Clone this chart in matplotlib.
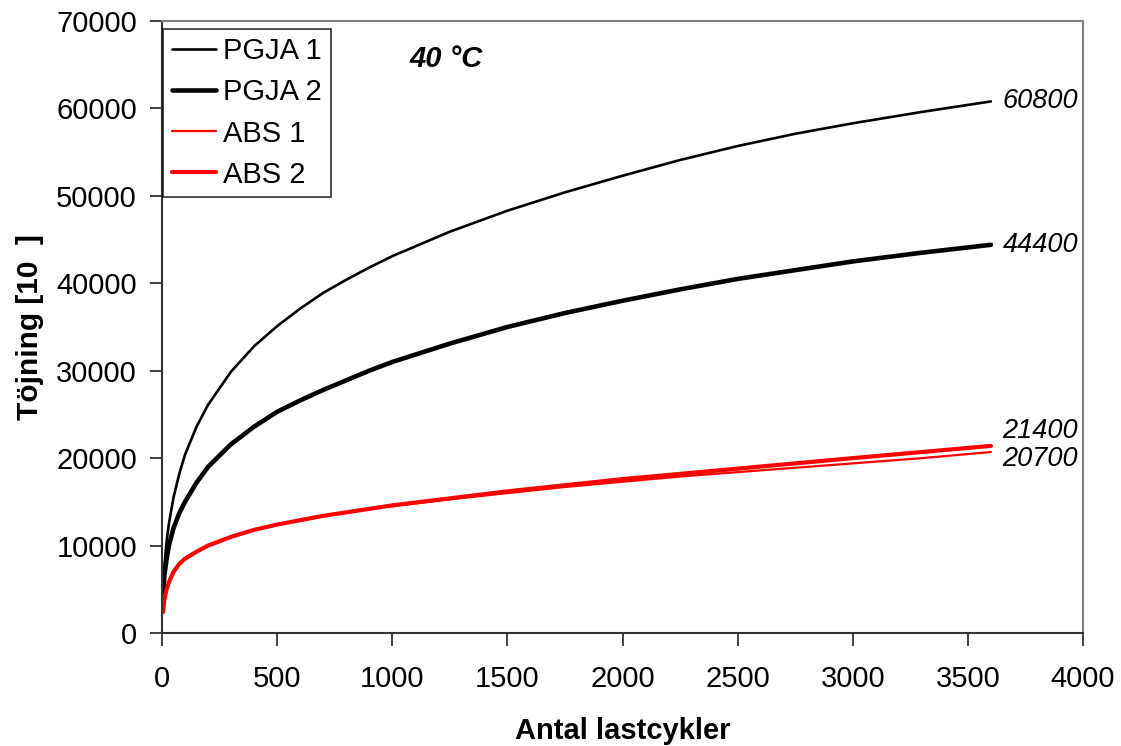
import matplotlib
matplotlib.use("Agg")
import matplotlib.pyplot as plt

plt.rcParams['font.family'] = ['Liberation Sans', 'DejaVu Sans']

x_vals = [5, 10, 20, 30, 50, 75, 100, 150, 200, 300, 400, 500, 600, 700, 800, 900,
          1000, 1250, 1500, 1750, 2000, 2250, 2500, 2750, 3000, 3300, 3600]
pgja1 = [5000, 7500, 10500, 12500, 15500, 18200, 20400, 23600, 26100, 29900, 32800, 35100,
         37100, 38900, 40400, 41800, 43100, 45900, 48300, 50400, 52300, 54100, 55700, 57100,
         58300, 59600, 60800]
pgja2 = [4500, 6500, 8500, 10000, 12000, 13700, 15000, 17200, 19000, 21600, 23600, 25300,
         26600, 27800, 28900, 30000, 31000, 33100, 35000, 36600, 38000, 39300, 40500, 41500,
         42500, 43500, 44400]
abs1 = [2400, 3800, 5000, 5800, 7000, 7900, 8500, 9300, 10000, 11000, 11800, 12400,
        12900, 13400, 13800, 14200, 14500, 15300, 16000, 16700, 17300, 17900, 18400, 18900,
        19400, 20000, 20700]
abs2 = [2400, 3800, 5000, 5800, 7000, 7900, 8500, 9300, 10000, 11000, 11800, 12400,
        12900, 13400, 13800, 14200, 14600, 15400, 16200, 16900, 17600, 18200, 18800, 19400,
        20000, 20700, 21400]
end_labels = ["60800", "44400", "21400", "20700"]
end_label_y = [60800, 44400, 23100, 19900]

fig = plt.figure(figsize=(11.21, 7.46), dpi=100)
ax = fig.add_axes([162/1121, 1 - 633/746, (1083-162)/1121, (633-21)/746])

ax.plot(x_vals, pgja1, color='black', lw=1.9, label='PGJA 1', solid_capstyle='round')
ax.plot(x_vals, pgja2, color='black', lw=3.3, label='PGJA 2', solid_capstyle='round')
ax.plot(x_vals, abs1, color='#ff0000', lw=1.6, label='ABS 1', solid_capstyle='round')
ax.plot(x_vals, abs2, color='#ff0000', lw=3.0, label='ABS 2', solid_capstyle='round')

for lab, yv in zip(end_labels, end_label_y):
    ax.text(3650, yv, lab, fontsize=19.5, style='italic', ha='left', va='center')

ax.text(1075, 65700, "40 °C", fontsize=21, style='italic', fontweight='bold', ha='left', va='center')

ax.set_xlim(0, 4000)
ax.set_ylim(0, 70000)
ax.set_xticks(range(0, 4001, 500))
ax.set_yticks(range(0, 70001, 10000))
ax.tick_params(axis='both', labelsize=21, direction='out', length=9, width=1.2, colors='#222222', labelcolor='black')
ax.tick_params(axis='x', pad=14)
ax.tick_params(axis='y', pad=9)
ax.set_xlabel("Antal lastcykler", fontsize=21, fontweight='bold', labelpad=17)
ax.set_ylabel("Töjning [10  ]", fontsize=21.5, fontweight='bold', labelpad=9)

for s in ['top', 'right']:
    ax.spines[s].set_color('#808080')
    ax.spines[s].set_linewidth(1.5)
for s in ['left', 'bottom']:
    ax.spines[s].set_color('#333333')
    ax.spines[s].set_linewidth(1.5)

leg = ax.legend(loc='upper left', bbox_to_anchor=(0.0, 0.99), fontsize=21, frameon=True, fancybox=False,
                edgecolor='black', handlelength=1.5, handletextpad=0.25, borderpad=0.3,
                labelspacing=0.45, borderaxespad=0.05)
leg.get_frame().set_linewidth(1.2)

fig.savefig("out.png", dpi=100)
